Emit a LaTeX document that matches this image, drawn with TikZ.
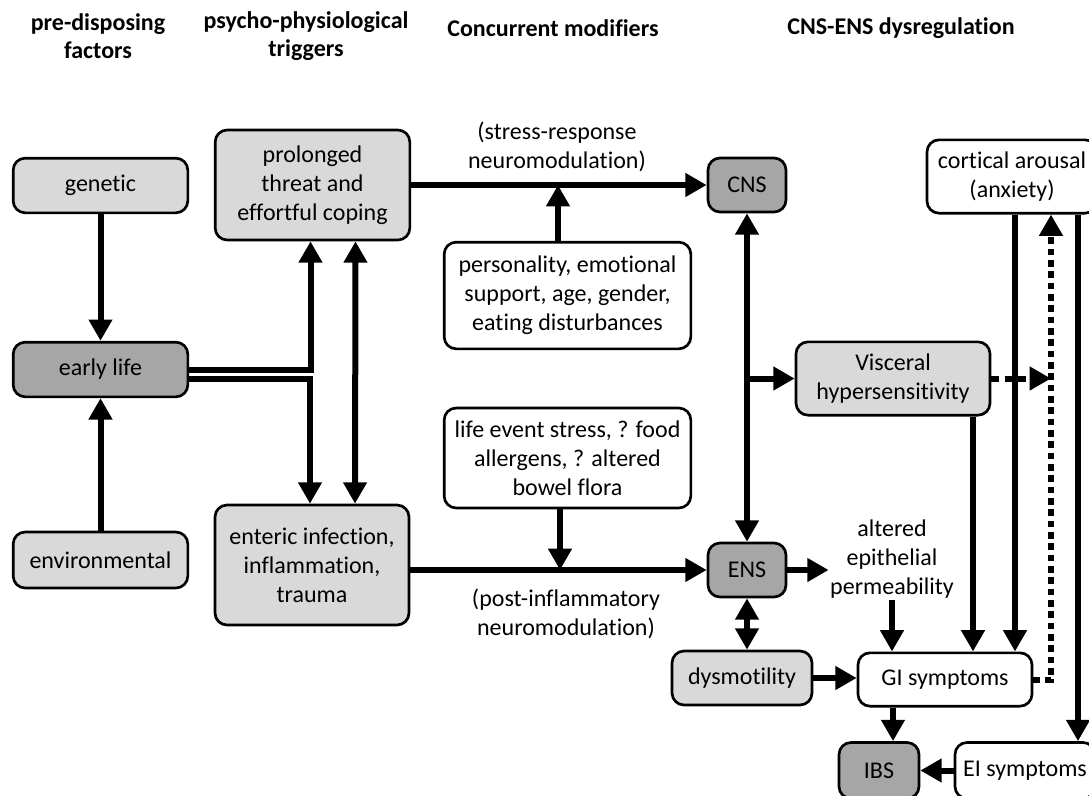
\documentclass[tikz,border=0pt]{standalone}
\usepackage{fontspec}
\setmainfont{Carlito}[Ligatures=NoCommon]
\usetikzlibrary{arrows.meta,calc}
\definecolor{lgray}{HTML}{D9D9D9}
\definecolor{dgray}{HTML}{A6A6A6}
\tikzset{
  box/.style={draw,line width=2pt,rounded corners=9pt,align=center,inner sep=2pt},
  light/.style={box,fill=lgray},
  dark/.style={box,fill=dgray},
  plain/.style={box,fill=white},
  conn/.style={line width=4.5pt,-{Triangle[length=16pt,width=17pt]}},
  biconn/.style={line width=4.5pt,{Triangle[length=16pt,width=17pt]}-{Triangle[length=16pt,width=17pt]}},
  dots/.style={conn,dash pattern=on 5pt off 3.5pt},
  dashes/.style={conn,dash pattern=on 6pt off 4pt},
  head/.style={font=\fontsize{18}{21}\selectfont\bfseries,align=center}
}
\begin{document}
\begin{tikzpicture}[x={(0.75pt,0)},y={(0,-0.75pt)},font=\fontsize{18}{21.75}\selectfont]
\useasboundingbox (0,0) rectangle (1089,796);
% column heads
\node[head] (h1) at (98,36) {pre-disposing\\factors};
\node[head] (h2) at (306,36) {psycho-physiological\\triggers};
\node[head] (h3) at (553,28) {Concurrent modifiers};
\node[head] (h4) at (901,28) {CNS-ENS dysregulation};
% boxes
\node[light,minimum width=131pt,minimum height=41pt] (genetic) at (100.5,185.5) {genetic};
\node[dark,minimum width=131pt,minimum height=41pt] (early) at (100.5,369.5) {early life};
\node[light,minimum width=131pt,minimum height=42pt] (environ) at (100.5,560) {environmental};
\node[light,minimum width=146pt,minimum height=82.5pt] (threat) at (312.5,185) {prolonged\\threat and\\effortful coping};
\node[light,minimum width=145.5pt,minimum height=90pt] (enteric) at (312,565) {enteric infection,\\inflammation,\\trauma};
\node[dark,minimum width=58.5pt,minimum height=40.5pt] (CNS) at (747,185) {CNS};
\node[dark,minimum width=58.5pt,minimum height=40.5pt] (ENS) at (747,570) {ENS};
\node[plain,minimum width=185pt,minimum height=80pt] (personality) at (567.5,295.5) {personality, emotional\\support, age, gender,\\eating disturbances};
\node[plain,minimum width=185pt,minimum height=75pt] (lifeevent) at (567.5,458) {life event stress, ? food\\allergens, ? altered\\bowel flora};
\node[light,minimum width=145.5pt,minimum height=55pt] (visceral) at (893,378.5) {Visceral\\hypersensitivity};
\node[plain,minimum width=127.5pt,minimum height=55pt] (cortical) at (1012,176.5) {cortical arousal\\(anxiety)};
\node[align=center,inner sep=1pt] (epith) at (892,559) {altered\\epithelial\\permeability};
\node[light,minimum width=105pt,minimum height=40.5pt] (dysmot) at (742,678) {dysmotility};
\node[plain,minimum width=130.5pt,minimum height=40pt] (GI) at (945,679.5) {GI symptoms};
\node[dark,minimum width=60pt,minimum height=42pt] (IBS) at (879,770.5) {IBS};
\node[plain,minimum width=105pt,minimum height=42pt] (EI) at (1025,770.5) {EI symptoms};
% labels on the lines
\node[align=center] (srlab) at (557,147) {(stress-response\\neuromodulation)};
\node[align=center] (pilab) at (566,614) {(post-inflammatory\\neuromodulation)};
% helper points
\coordinate (sr) at (558,185);
\coordinate (pi) at (560,570);
\coordinate (v1) at ($(visceral.south)+(80,0)$);
\coordinate (c1) at ($(cortical.south)+(3,0)$);
\coordinate (d1) at (1051,0);
\coordinate (e1) at (1078,0);
\coordinate (g1) at (893,0);
% connectors
\draw[conn] (genetic) -- (early);
\draw[conn] (environ) -- (early);
\draw[conn] (early.east) -| ([xshift=-1.5pt]threat.south);
\draw[conn] ([yshift=-6.75pt]early.east) -| ([xshift=-1.5pt]enteric.north);
\draw[biconn] ($(threat.south)+(43,0)$) -- ($(enteric.north)+(43,0)$);
\draw[conn] (threat.east |- CNS) -- (CNS);
\draw[conn] (personality.north -| sr) -- (sr);
\draw[conn] (enteric.east |- ENS) -- (ENS);
\draw[conn] (lifeevent.south -| pi) -- (pi);
\draw[biconn] (CNS) -- (ENS);
\draw[conn] (CNS |- visceral) -- (visceral);
\draw[conn] (ENS) -- (ENS -| epith.west);
\draw[biconn] (ENS) -- (ENS |- dysmot.north);
\draw[conn] (dysmot) -- (dysmot -| GI.west);
\draw[conn] (epith.south) -- (epith.south |- GI.north);
\draw[conn] (v1) -- (v1 |- GI.north);
\draw[conn] (c1) -- (c1 |- GI.north);
\draw[dots] (GI.east) -| (d1 |- cortical.south);
\draw[dashes] (visceral.east) -- (visceral.east -| d1);
\draw[conn] (e1 |- cortical.south) -- (e1 |- EI.north);
\draw[conn] (g1 |- GI.south) -- (g1 |- IBS.north);
\draw[conn] (EI) -- (IBS);
\end{tikzpicture}
\end{document}
